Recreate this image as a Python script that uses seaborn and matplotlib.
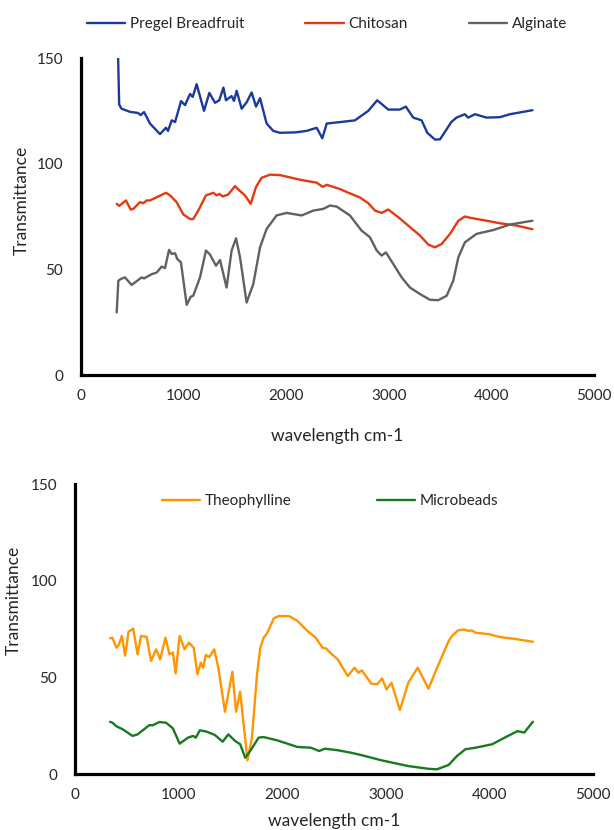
import numpy as np
import pandas as pd
import seaborn as sns
import matplotlib
matplotlib.use('Agg')
import matplotlib.pyplot as plt

# ---- top panel: FTIR of the polymers ----
breadfruit_wn = [362, 372, 395, 480, 555, 582, 615, 672, 770, 828, 848, 884, 917, 975, 1014, 1063,
                 1089, 1127, 1199, 1251, 1306, 1348, 1388, 1413, 1468, 1491, 1517, 1566, 1614, 1663,
                 1706, 1745, 1809, 1874, 1939, 2090, 2199, 2297, 2352, 2395, 2530, 2670, 2800, 2887,
                 2995, 3108, 3166, 3238, 3320, 3375, 3450, 3499, 3611, 3660, 3741, 3773, 3840, 3953,
                 4083, 4181, 4400]
breadfruit_t = [150, 128, 126, 124.5, 124, 123, 124.4, 119, 114, 117, 115.5, 120.5, 119.7, 129.6,
                127.7, 133, 131.6, 137.6, 125, 133.5, 128.8, 130, 136, 130, 132, 129.7, 134.5, 126,
                129, 133.7, 127, 131, 119, 115.5, 114.6, 114.8, 115.5, 117, 112, 119, 119.7, 120.5,
                125, 130, 125.6, 125.6, 127, 121.8, 120.5, 114.6, 111.4, 111.5, 119.8, 121.8, 123.4,
                121.8, 123.4, 121.8, 122, 123.4, 125.3]

chitosan_wn = [348, 373, 397, 438, 484, 510, 575, 607, 640, 672, 828, 868, 932, 997, 1063, 1094,
               1143, 1218, 1289, 1322, 1348, 1381, 1435, 1501, 1533, 1598, 1654, 1706, 1760, 1842,
               1939, 2134, 2297, 2356, 2395, 2524, 2589, 2719, 2800, 2865, 2930, 2995, 3092, 3206,
               3304, 3385, 3450, 3515, 3597, 3678, 3742, 3791, 3953, 4083, 4245, 4400]
chitosan_t = [81, 80, 81, 82.6, 78.3, 78.6, 81.8, 81.3, 82.6, 82.6, 86.2, 85, 81.8, 76, 73.8, 73.8,
              77.8, 85, 86.2, 85, 85.7, 84.5, 85.4, 89.4, 87.8, 85, 81, 89, 93.3, 94.8, 94.6, 92.4,
              91, 89, 90, 88, 86.6, 84, 81.3, 77.8, 76.7, 78.3, 74.7, 70, 66, 61.7, 60.4, 62, 66.8,
              73, 75, 74.4, 73, 71.8, 70.7, 69]

alginate_wn = [348, 364, 387, 428, 494, 591, 614, 689, 738, 786, 819, 858, 884, 917, 938, 974,
               1030, 1069, 1094, 1160, 1218, 1257, 1316, 1355, 1419, 1468, 1511, 1550, 1614, 1679,
               1745, 1809, 1906, 2004, 2151, 2264, 2362, 2426, 2492, 2621, 2735, 2816, 2882, 2930,
               2972, 3044, 3125, 3206, 3304, 3401, 3482, 3564, 3628, 3678, 3742, 3856, 4018, 4181,
               4400]
alginate_t = [29.6, 44.6, 45.4, 46.2, 42.6, 46.2, 45.7, 47.7, 48.5, 51.3, 50.6, 59.2, 57.3, 57.6,
              54.9, 53.3, 33.2, 37, 37.5, 46.2, 58.9, 57, 51.7, 54.4, 41.4, 58.9, 64.7, 55.7, 34.3,
              43, 60.4, 69.1, 75.5, 76.7, 75.5, 77.8, 78.6, 80.2, 79.7, 75.5, 68.3, 65.2, 58.9, 56.5,
              58, 52.5, 46.2, 41.4, 38.3, 35.6, 35.4, 37.5, 44.6, 55.7, 62.8, 66.8, 68.6, 71.2, 73]

# ---- bottom panel: drug and beads ----
theophylline_wn = [338, 361, 400, 425, 452, 484, 516, 562, 604, 637, 691, 734, 783, 822, 873, 912,
                   945, 971, 1010, 1058, 1100, 1146, 1182, 1214, 1237, 1263, 1296, 1344, 1383,
                   1448, 1519, 1555, 1594, 1665, 1708, 1757, 1789, 1821, 1854, 1919, 1968, 2065,
                   2146, 2243, 2324, 2389, 2422, 2470, 2535, 2567, 2633, 2698, 2737, 2769, 2860,
                   2918, 2964, 3006, 3055, 3136, 3217, 3308, 3412, 3509, 3607, 3639, 3697, 3762,
                   3801, 3827, 3866, 3996, 4094, 4255, 4420]
theophylline_t = [70.2, 70.5, 65.3, 67, 71.4, 61.2, 73.5, 75.2, 61.9, 71.4, 71, 58.5, 64.5, 59.3,
                  70.5, 61.9, 62.8, 52, 71.4, 64.5, 67.9, 65.3, 51.6, 57.6, 55, 61.6, 60.5, 64.5,
                  55, 32.2, 52.9, 32.2, 42.6, 7.1, 18.8, 51.6, 65.3, 70.5, 72.8, 80.5, 81.7, 81.7,
                  79.2, 74, 70.5, 65.3, 65, 62.4, 59.3, 56.5, 50.7, 55, 52.4, 53.6, 46.7, 46.4,
                  49.5, 43.8, 47.2, 33.1, 47.2, 55, 44.1, 56.7, 68.8, 71.4, 74.3, 74.7, 74, 74.3,
                  73.1, 72.3, 70.9, 69.8, 68.4]

microbeads_wn = [338, 363, 396, 461, 555, 604, 718, 750, 815, 880, 945, 1010, 1091, 1140, 1166,
                 1205, 1270, 1350, 1425, 1480, 1545, 1594, 1643, 1691, 1772, 1821, 1952, 2146,
                 2276, 2357, 2412, 2535, 2665, 2762, 2957, 3217, 3412, 3493, 3607, 3687, 3768,
                 3866, 4028, 4158, 4272, 4337, 4386, 4420]
microbeads_t = [27, 26.5, 24.8, 23.1, 19.7, 20.5, 25.3, 25.2, 26.9, 26.5, 23.6, 15.7, 18.8, 19.7,
                18.8, 22.6, 21.9, 20.2, 16.7, 20.5, 17.1, 15.4, 8.4, 11.9, 18.8, 19.1, 17.4, 14,
                13.6, 11.9, 13.1, 12.3, 11, 9.8, 7.1, 4.1, 2.7, 2.4, 4.7, 9.3, 12.8, 13.6, 15.4,
                19.1, 22.2, 21.4, 24.8, 27]

x_ticks = [0, 1000, 2000, 3000, 4000, 5000]
y_ticks = [0, 50, 100, 150]

colors = {'Pregel Breadfruit': '#1b3a9b', 'Chitosan': '#e5390f', 'Alginate': '#616161',
          'Theophylline': '#ff9500', 'Microbeads': '#167a1e'}


def style_axis(ax):
    sns.despine(ax=ax)
    for side in ['left', 'bottom']:
        ax.spines[side].set_linewidth(2.3)
        ax.spines[side].set_color('black')
    ax.set_xlim(0, 5000)
    ax.set_ylim(0, 150)
    ax.set_xticks(x_ticks)
    ax.set_yticks(y_ticks)
    ax.tick_params(axis='both', length=0, labelsize=11)
    ax.tick_params(axis='y', pad=13)
    ax.tick_params(axis='x', pad=10)
    ax.set_xlabel('wavelength cm-1', fontsize=12.5)
    ax.set_ylabel('Transmittance', fontsize=12.5)
    ax.grid(False)


def plot_spectra(ax, series):
    for name, wn, t in series:
        sns.lineplot(x=wn, y=t, ax=ax, color=colors[name], lw=1.7, label=name,
                     estimator=None, sort=False)


sns.set_style('white')
plt.rcParams['font.family'] = ['Lato', 'DejaVu Sans']

fig = plt.figure(figsize=(6.14, 8.3), dpi=100)
ax1 = fig.add_axes([81 / 614, 1 - 375 / 830, 513 / 614, 317 / 830])
ax2 = fig.add_axes([75 / 614, 1 - 774 / 830, 518 / 614, 290 / 830])

plot_spectra(ax1, [('Pregel Breadfruit', breadfruit_wn, breadfruit_t),
                   ('Chitosan', chitosan_wn, chitosan_t),
                   ('Alginate', alginate_wn, alginate_t)])
plot_spectra(ax2, [('Theophylline', theophylline_wn, theophylline_t),
                   ('Microbeads', microbeads_wn, microbeads_t)])

for ax in (ax1, ax2):
    style_axis(ax)

ax1.xaxis.set_label_coords(0.5, -0.167)
ax1.yaxis.set_label_coords(-0.099, 0.55)
ax2.xaxis.set_label_coords(0.5, -0.134)
ax2.yaxis.set_label_coords(-0.102, 0.6)

ax1.legend(loc='center', bbox_to_anchor=(327 / 614, 1 - 24 / 830), bbox_transform=fig.transFigure,
           ncol=3, frameon=False, fontsize=11, handlelength=2.5, handletextpad=0.3,
           columnspacing=4.0)
ax2.legend(loc='center', bbox_to_anchor=(330 / 614, 1 - 501 / 830), bbox_transform=fig.transFigure,
           ncol=2, frameon=False, fontsize=11, handlelength=2.5, handletextpad=0.3,
           columnspacing=5.6)

fig.savefig('out.png', dpi=100)
